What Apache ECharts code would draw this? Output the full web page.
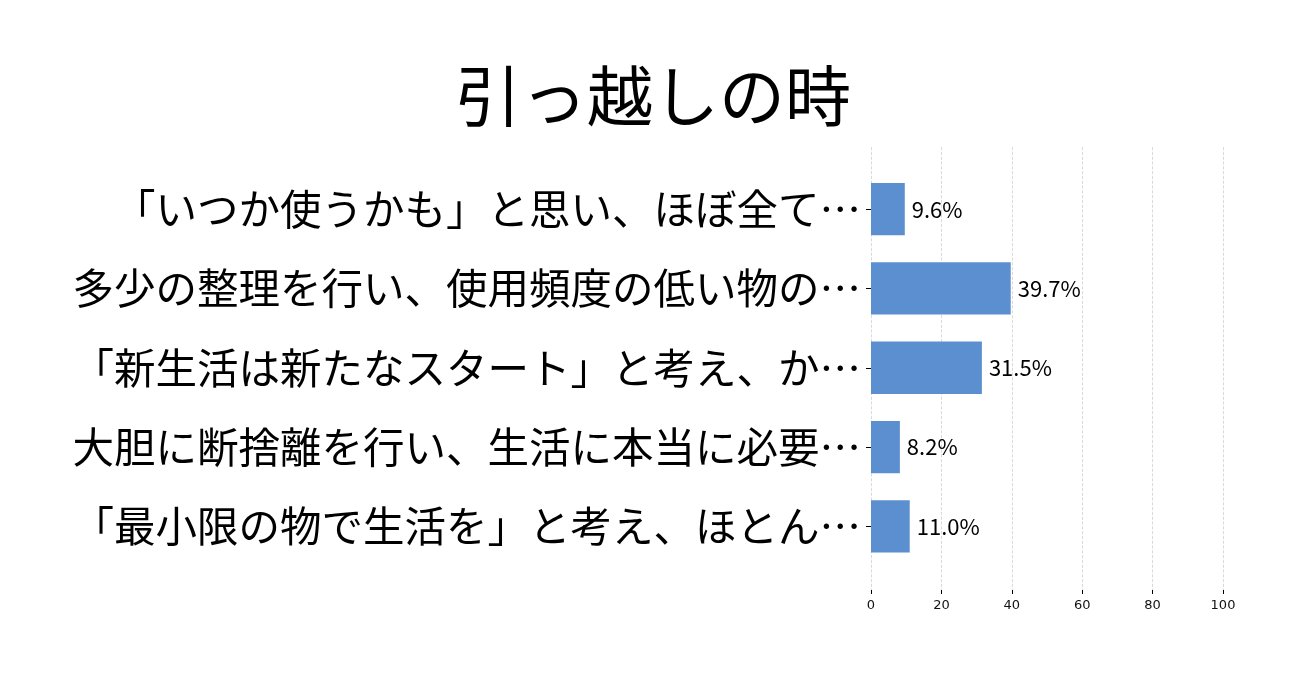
<!DOCTYPE html>
<html><head><meta charset="utf-8">
<script src="https://cdn.jsdelivr.net/npm/echarts@6/dist/echarts.min.js"></script>
<style>html,body{margin:0;padding:0;background:#fff;}#c{width:1306px;height:683px;}</style>
</head><body><div id="c"></div>
<script>
const title = '引っ越しの時';
const categories = [
  '「いつか使うかも」と思い、ほぼ全て…',
  '多少の整理を行い、使用頻度の低い物の…',
  '「新生活は新たなスタート」と考え、か…',
  '大胆に断捨離を行い、生活に本当に必要…',
  '「最小限の物で生活を」と考え、ほとん…'
];
const values = [9.6, 39.7, 31.5, 8.2, 11.0];
const xTicks = [0, 20, 40, 60, 80, 100];

const font = '"Noto Sans CJK JP", "Noto Sans", sans-serif';
const chart = echarts.init(document.getElementById('c'));
chart.setOption({
  animation: false,
  backgroundColor: '#fff',
  title: {
    text: title, left: 'center', top: 58,
    textStyle: { fontFamily: font, fontSize: 66, fontWeight: 'normal', color: '#000' }
  },
  grid: [
    { left: 871, right: 83, top: 147, bottom: 93, containLabel: false },
    { left: 871, right: 83, top: 169.5, bottom: 117, containLabel: false }
  ],
  xAxis: [
    {
      gridIndex: 0, type: 'value', min: xTicks[0], max: xTicks[xTicks.length - 1], interval: 20,
      axisLine: { show: false },
      axisTick: { show: true, length: 4, lineStyle: { color: '#000', width: 1 } },
      axisLabel: { fontFamily: '"DejaVu Sans", sans-serif', fontSize: 13, color: '#111', margin: 9 },
      splitLine: { show: true, lineStyle: { type: 'dashed', color: '#d0d0d0', width: 0.8 } }
    },
    {
      gridIndex: 1, type: 'value', min: 0, max: 100, show: false,
      splitLine: { show: false }
    }
  ],
  yAxis: [
    { gridIndex: 0, type: 'value', show: false, splitLine: { show: false } },
    {
      gridIndex: 1, type: 'category', data: categories, inverse: true,
      axisLine: { show: false },
      axisTick: { show: true, alignWithLabel: true, length: 5, lineStyle: { color: '#000' } },
      axisLabel: { fontFamily: font, fontSize: 41.5, color: '#000', margin: 10 },
      splitLine: { show: false }
    }
  ],
  series: [{
    type: 'bar', xAxisIndex: 1, yAxisIndex: 1, data: values,
    barCategoryGap: '34%',
    itemStyle: { color: '#5b8fd0' },
    label: {
      show: true, position: 'right', distance: 7,
      formatter: p => p.value.toFixed(1) + '%',
      fontFamily: font, fontSize: 22, color: '#000'
    }
  }]
});
</script></body></html>
